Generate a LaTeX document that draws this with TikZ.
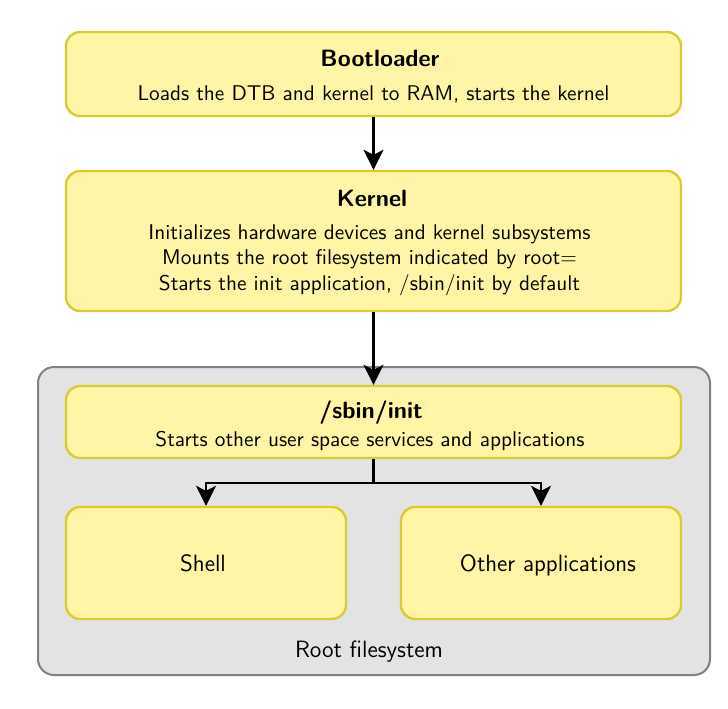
\documentclass[tikz,border=0pt]{standalone}
\usepackage{tikz}
\usetikzlibrary{
    arrows.meta,
    positioning
}
\renewcommand{\familydefault}{\sfdefault}
\definecolor{boxfill}{RGB}{255,245,165}
\definecolor{boxline}{RGB}{218,203,52}
\definecolor{rootfill}{RGB}{227,227,227}
\definecolor{rootline}{RGB}{128,128,128}

\begin{document}
\begin{tikzpicture}[x=0.5pt,y=-0.5pt,
    font=\fontsize{10.65}{12.8}\selectfont,
    big/.style={font=\fontsize{11.8}{14}\selectfont},
    title/.style={font=\fontsize{11.8}{14}\selectfont\bfseries},
    stage/.style={draw=boxline,fill=boxfill,line width=1.2pt,rounded corners=7pt,inner sep=0pt,minimum width=307.5pt},
    flow/.style={line width=1.1pt,-{Stealth[length=10pt,width=10pt,inset=2.5pt]}}]

\useasboundingbox (0,0) rectangle (728,708);

% Root filesystem
\draw[draw=rootline,fill=rootfill,line width=1pt,rounded corners=8pt] (38,367) rectangle (710,675);
\node[big] (rootfs) at (369,652) {Root filesystem};

% Bootloader
\node[stage,minimum height=42pt] (boot) at (373.5,74) {};
\node[title] (boottitle) at (380,58) {Bootloader};
\node (bootinfo) at (373.5,94) {Loads the DTB and kernel to RAM, starts the kernel};

% Kernel
\node[stage,minimum height=70pt] (kernel) at (373.5,241) {};
\node[title] (kerneltitle) at (372,198) {Kernel};
\node[align=center] (kernelinfo) at (369.5,260) {Initializes hardware devices and kernel subsystems\\
    Mounts the root filesystem indicated by root=\\
    Starts the init application, /sbin/init by default};

% /sbin/init
\node[stage,minimum height=36pt] (init) at (373.5,422) {};
\node[title] (inittitle) at (371,413) {/sbin/init};
\node (initinfo) at (370,441) {Starts other user space services and applications};

% Shell and applications
\node[stage,minimum width=140pt,minimum height=56pt] (shell) at (206,563) {};
\node[big] (shelltext) at (203,563) {Shell};
\node[stage,minimum width=140pt,minimum height=56pt] (other) at (541,563) {};
\node[big] (othertext) at (548,565) {Other applications};

% Arrows
\draw[flow] (boot) -- (kernel);
\draw[flow] (kernel) -- (init);
\coordinate (split) at (373.5,483);
\draw[line width=1.1pt] (init) -- (split);
\draw[flow] (split) -| (shell);
\draw[flow] (split) -| (other);

\end{tikzpicture}
\end{document}
